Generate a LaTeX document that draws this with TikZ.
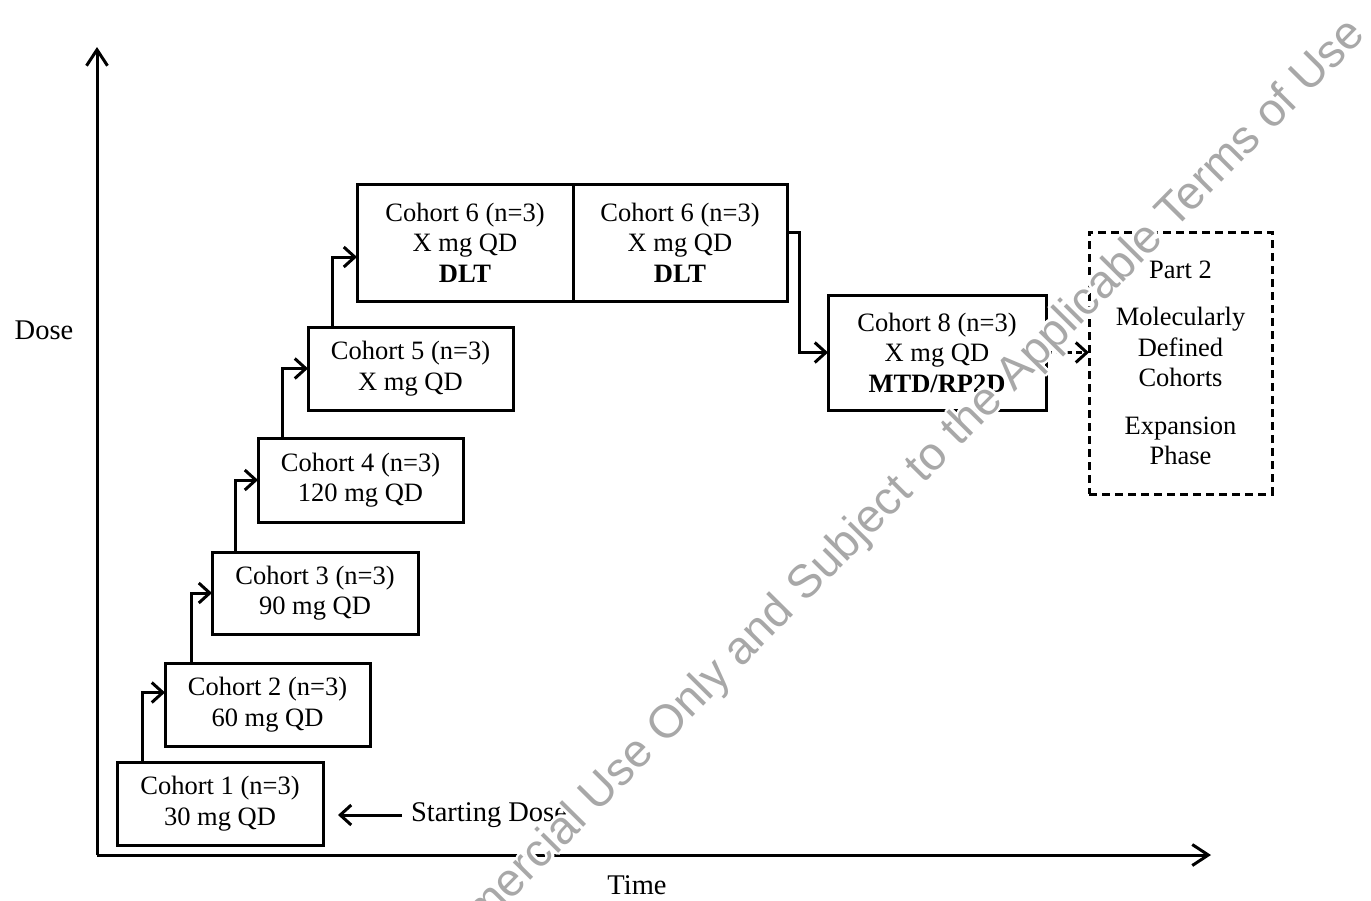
\documentclass[tikz,border=0pt]{standalone}
\usepackage{fontspec}
\setmainfont{Liberation Serif}
\newfontfamily\wmfont{Liberation Sans}
\usepackage{contour}
\contourlength{2.5pt}
\usetikzlibrary{arrows.meta,calc}

\begin{document}
\begin{tikzpicture}[x=1pt,y=-1pt,
  every node/.style={font=\fontsize{26.5}{30.5}\selectfont, align=center, inner sep=0pt, outer sep=0pt},
  biglbl/.style={font=\fontsize{28.5}{32}\selectfont},
  cbox/.style={draw, line width=3pt},
  pbox/.style={draw, line width=3pt, dash pattern=on 8pt off 5pt},
  lnk/.style={line width=3pt, -{Straight Barb[length=11pt,width=20pt]}},
  dlnk/.style={line width=3pt, dash pattern=on 6pt off 4pt, -{Straight Barb[length=11pt,width=20pt]}},
  axis/.style={line width=3pt, -{Straight Barb[length=16pt,width=21pt]}},
  wmark/.style={font=\fontsize{46.5}{46.5}\wmfont, text=black!34, rotate=45.3, anchor=base east}]

\useasboundingbox (0,0) rectangle (1371,900);

% axes
\coordinate (O) at (97,855);
\coordinate (ytop) at (97,47);
\coordinate (xend) at (1211,855);
\draw[axis] (O) -- (ytop);
\draw[axis] (O) -- (xend);
\node[biglbl] (doselbl) at (44,330) {Dose};
\node[biglbl] (timelbl) at (637,885) {Time};

% dose-escalation cohorts
\node[cbox, minimum width=206pt, minimum height=83pt] (c1) at (220,803.5) {Cohort 1 (n=3)\\30 mg QD};
\node[cbox, minimum width=205pt, minimum height=83pt] (c2) at (267.5,704.5) {Cohort 2 (n=3)\\60 mg QD};
\node[cbox, minimum width=206pt, minimum height=82pt] (c3) at (315,593) {Cohort 3 (n=3)\\90 mg QD};
\node[cbox, minimum width=205pt, minimum height=84pt] (c4) at (360.5,480) {Cohort 4 (n=3)\\120 mg QD};
\node[cbox, minimum width=205pt, minimum height=83pt] (c5) at (410.5,368.5) {Cohort 5 (n=3)\\X mg QD};
\node[cbox, minimum width=216pt, minimum height=117pt] (c6a) at (465,242.5) {Cohort 6 (n=3)\\X mg QD\\\textbf{DLT}};
\node[cbox, minimum width=214pt, minimum height=117pt] (c6b) at (680,242.5) {Cohort 6 (n=3)\\X mg QD\\\textbf{DLT}};
\node[cbox, minimum width=218pt, minimum height=115pt] (c8) at (937,352.5) {Cohort 8 (n=3)\\X mg QD\\\textbf{MTD/RP2D}};
\node[pbox, minimum width=183pt, minimum height=262pt] (p2) at (1180.5,363)
  {Part 2\\[17pt]Molecularly\\Defined\\Cohorts\\[17pt]Expansion\\Phase};

% escalation steps
\draw[lnk] ($(c1.north west)+(25,0)$) |- ($(c2.west)+(0,-12)$);
\draw[lnk] ($(c2.north west)+(26,0)$) |- (c3.west);
\draw[lnk] ($(c3.north west)+(23,0)$) |- (c4.west);
\draw[lnk] (c4.north west) -- ++(24,0) |- (c5.west);
\draw[lnk] (c5.north west) -- ++(24,0) |- ($(c6a.south west)+(0,-44)$);
\draw[lnk] ($(c6b.north east)+(0,48)$) -- ++(12,0) |- (c8.west);
\draw[dlnk] (c8.east) -- (c8.east -| p2.west);

% starting dose marker
\node[biglbl] (start) at (489,815) {Starting Dose};
\coordinate (sdtip) at (338,815);
\draw[lnk] ($(start.west)+(-9,0)$) -- (sdtip);

% usage watermark
\begin{scope}
  \clip (0,0) rectangle (1371,900);
  \node[wmark] (wm) at (1367,36) {\contour{white}{Commercial Use Only and Subject to the Applicable Terms of Use}};
\end{scope}
\end{tikzpicture}
\end{document}
